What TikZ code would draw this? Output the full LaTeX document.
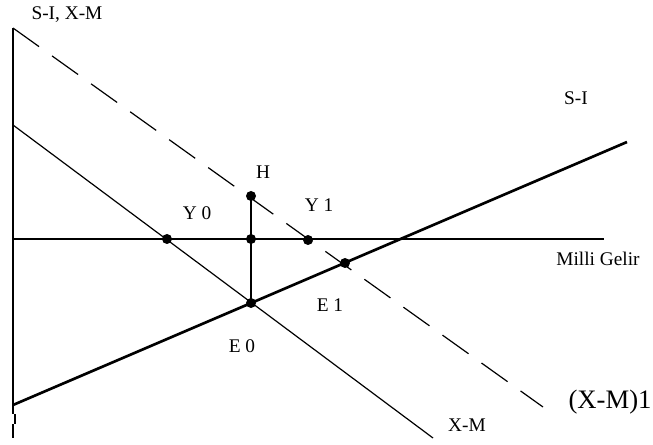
\documentclass[tikz,border=0pt]{standalone}
\usepackage{fontspec}
\setmainfont{Liberation Serif}
\begin{document}
\begin{tikzpicture}[x=0.75pt,y=-0.75pt,
  lbl/.style={inner sep=0pt,font=\fontsize{14.5}{16}\selectfont},
  biglbl/.style={inner sep=0pt,font=\fontsize{20}{22}\selectfont},
  axisline/.style={line width=1.3pt},
  sicurve/.style={line width=2pt},
  xmcurve/.style={line width=0.9pt},
  xmdash/.style={line width=0.9pt,dash pattern=on 24 off 12},
  dot/.style={circle,fill=black,inner sep=0pt,minimum size=7.5pt}]
\useasboundingbox (0,0) rectangle (653,445);
% coordinates
\coordinate (ytop) at (13,28);
\coordinate (ybot) at (13,438);
\coordinate (xend) at (604,239);
\coordinate (origin) at (13,239);
\coordinate (sistart) at (13,405);
\coordinate (siend) at (627,142);
\coordinate (xmstart) at (13,125);
\coordinate (xmend) at (433,438);
\coordinate (dstart) at (13,28);
\coordinate (dend) at (543,407);
% axes
\draw[axisline] (ytop) -- (13,414);
\draw[axisline] (15,414) -- (15,424);
\draw[axisline] (13,424) -- (ybot);
\draw[axisline] (origin) -- (xend);
% curves
\draw[sicurve] (sistart) -- (siend);
\draw[xmcurve] (xmstart) -- (xmend);
\draw[xmdash] (dstart) -- (dend);
% points
\node[dot] (Y0) at (167,239) {};
\node[dot] (M) at (251,239) {};
\node[dot] (Y1) at (308,240) {};
\node[dot] (H) at (251,196) {};
\node[dot] (E0) at (251,303) {};
\node[dot] (E1) at (345,263) {};
\draw[line width=1.3pt] (H.center) -- (E0.center);
% labels
\node[lbl] (tyaxis) at (67,15) {S-I, X-M};
\node[lbl] (tsi) at (576,98) {S-I};
\node[lbl] (tH) at (263,172) {H};
\node[lbl] (tY0) at (197,213) {Y 0};
\node[lbl] (tY1) at (319,205) {Y 1};
\node[lbl] (tmg) at (598,259) {Milli Gelir};
\node[lbl] (tE1) at (330,305) {E 1};
\node[lbl] (tE0) at (242,346) {E 0};
\node[biglbl] (txm1) at (610,402) {(X-M)1};
\node[lbl] (txm) at (467,425) {X-M};
\end{tikzpicture}
\end{document}
